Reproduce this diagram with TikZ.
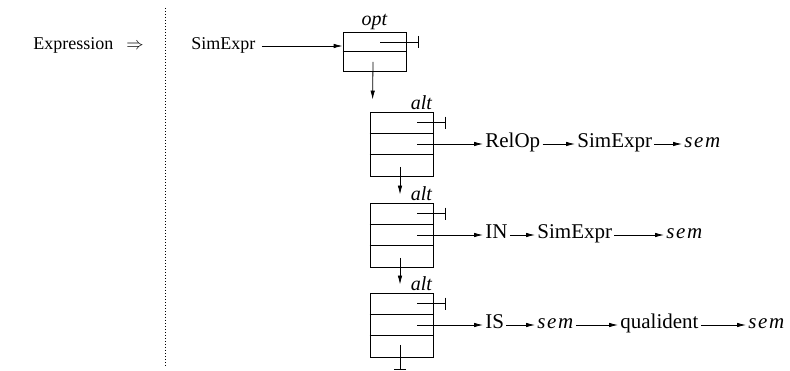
\documentclass[tikz,border=0pt]{standalone}
\usepackage{fontspec}
\setmainfont{Liberation Serif}
\newfontfamily\semfont[LetterSpace=8]{Liberation Serif Italic}
\usetikzlibrary{arrows.meta, positioning}
\tikzset{every picture/.style={line width=0.8pt}}

\begin{document}
\begin{tikzpicture}[x=1pt,y=-1pt,>={Latex[length=9pt,width=4.5pt]},
        font=\fontsize{21}{25}\selectfont, inner sep=2pt,
        word/.style={anchor=west, text height=1.9ex, text depth=0.3ex},
        head/.style={word, font=\fontsize{18}{22}\selectfont},
        tag/.style={font=\fontsize{20}{24}\selectfont\itshape, inner sep=1pt},
        optbox/.style={draw, minimum width=63pt, minimum height=39pt, inner sep=0pt},
        altbox/.style={draw, minimum width=63pt, minimum height=64pt, inner sep=0pt},
        stop/.style={-{Bar[width=12pt]}}]
        \useasboundingbox (0,0) rectangle (790,371);

        % left hand side
        \node[head] (expr) at (31,46) {Expression};
        \node[head] (impl) at (124,46) {$\Rightarrow$};
        \draw[dotted, line width=1pt] (165,8) -- (165,366);

        % optional part
        \node[head] (simexpr) at (189,46) {SimExpr};
        \node[optbox] (opt) at (374.5,51.5) {};
        \node[tag, above=0pt of opt] (opttag) {opt};
        \draw (opt.west) -- (opt.east);
        \coordinate (opt-top) at ([xshift=-26pt,yshift=9.5pt]opt.east);
        \coordinate (opt-cap) at ([xshift=12pt,yshift=9.5pt]opt.east);
        \coordinate (opt-down) at ([xshift=-1.5pt,yshift=-10.5pt]opt.center);
        \draw[->] ([xshift=4pt]simexpr.east) -- (simexpr -| opt.west);
        \draw[stop] (opt-top) -- (opt-cap);

        % alternatives
        \node[altbox] (alt1) at (401.5,144) {};
        \node[altbox] (alt2) at (401.5,235) {};
        \node[altbox] (alt3) at (401.5,325) {};
        \foreach \b in {alt1,alt2,alt3} {
            \draw ([yshift=10.67pt]\b.west) -- ([yshift=10.67pt]\b.east);
            \draw ([yshift=-10.67pt]\b.west) -- ([yshift=-10.67pt]\b.east);
            \node[tag, anchor=south east] (\b-tag) at (\b.north east) {alt};
            \coordinate (\b-top) at ([xshift=-16pt,yshift=21.3pt]\b.east);
            \coordinate (\b-cap) at ([xshift=12pt,yshift=21.3pt]\b.east);
            \coordinate (\b-mid) at ([xshift=-16pt]\b.east);
            \coordinate (\b-down) at ([xshift=-1.5pt,yshift=-23pt]\b.center);
            \coordinate (\b-in) at ([xshift=-1.5pt,yshift=8pt]\b.north);
            \draw[stop] (\b-top) -- (\b-cap);
        }
        \coordinate (alt1-in) at ([xshift=3pt,yshift=12pt]alt1.north west);
        \coordinate (alt3-end) at ([xshift=-1.5pt,yshift=-45pt]alt3.center);
        \coordinate (alt3-stub) at ([xshift=-1.5pt,yshift=-20pt]alt3.center);
        \draw[->] (opt-down) -- (alt1-in);
        \draw[->] (alt1-down) -- (alt2-in);
        \draw[->] (alt2-down) -- (alt3-in);
        \draw[stop] (alt3-stub) -- (alt3-end);

        % first alternative
        \node[word] (relop) at (483,144) {RelOp};
        \node[word] (simexpra) at (575,144) {SimExpr};
        \node[word] (sema) at (682,144) {\semfont sem};
        \draw[->] (alt1-mid) -- (relop);
        \draw[->] (relop) -- (simexpra);
        \draw[->] (simexpra) -- (sema);

        % second alternative
        \node[word] (in) at (483,235) {IN};
        \node[word] (simexprb) at (535,235) {SimExpr};
        \node[word] (semb) at (664,235) {\semfont sem};
        \draw[->] (alt2-mid) -- (in);
        \draw[->] (in) -- (simexprb);
        \draw[->] (simexprb) -- (semb);

        % third alternative
        \node[word] (is) at (483,325) {IS};
        \node[word] (semc) at (535,325) {\semfont sem};
        \node[word] (qualident) at (618,325) {qualident};
        \node[word] (semd) at (746,325) {\semfont sem};
        \draw[->] (alt3-mid) -- (is);
        \draw[->] (is) -- (semc);
        \draw[->] (semc) -- (qualident);
        \draw[->] (qualident) -- (semd);
\end{tikzpicture}
\end{document}
